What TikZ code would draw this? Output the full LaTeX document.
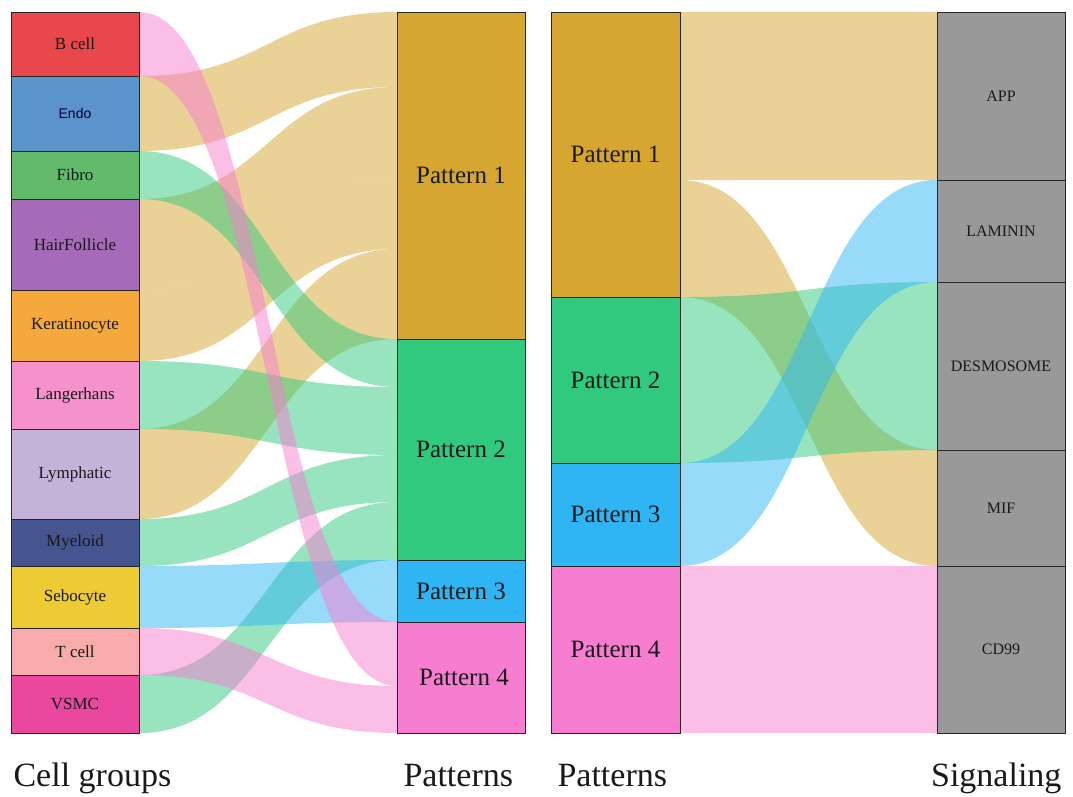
\documentclass[tikz,border=0pt]{standalone}
\usepackage{fontspec}
\setmainfont{Liberation Serif}
\newfontfamily\arialfont{Liberation Sans}
\usetikzlibrary{calc,positioning,backgrounds}

\definecolor{bcellc}{HTML}{E8474B}
\definecolor{endoc}{HTML}{5B93CB}
\definecolor{fibroc}{HTML}{62BA6B}
\definecolor{hairc}{HTML}{A56AB8}
\definecolor{kerac}{HTML}{F5A93C}
\definecolor{langc}{HTML}{F592CB}
\definecolor{lymphc}{HTML}{C5B2D9}
\definecolor{myelc}{HTML}{465590}
\definecolor{seboc}{HTML}{EDCB35}
\definecolor{tcellc}{HTML}{F8ABAB}
\definecolor{vsmcc}{HTML}{E9489E}
\definecolor{patA}{HTML}{D6A630}
\definecolor{patB}{HTML}{30C97E}
\definecolor{patC}{HTML}{2FB5F3}
\definecolor{patD}{HTML}{F77DD0}
\definecolor{sigc}{HTML}{999999}

% band: source node, top/bottom offset on source, target node, top/bottom offset on target, colour
\newcommand{\flow}[7]{%
  \fill[#7,fill opacity=.5]
    ($(#1.north east)+(0,#2)$) .. controls +(129,0) and +(-129,0) .. ($(#4.north west)+(0,#5)$)
    -- ($(#4.north west)+(0,#6)$) .. controls +(-129,0) and +(129,0) .. ($(#1.north east)+(0,#3)$)
    -- cycle;}

\begin{document}
\begin{tikzpicture}[x=1pt,y=-1pt]
  \tikzstyle{box}=[draw=black!85,line width=1pt,inner sep=0pt,outer sep=0pt,minimum width=128pt,text=black!90]
  \tikzstyle{cell}=[box,font=\fontsize{17}{19}\selectfont]
  \tikzstyle{pat}=[box,font=\fontsize{25}{28}\selectfont]
  \tikzstyle{sig}=[box,fill=sigc,font=\fontsize{16}{18}\selectfont]
  \tikzstyle{axis}=[text=black!90,font=\fontsize{34}{40}\selectfont]

  \useasboundingbox (0,0) rectangle (1073,796);

  % cell groups
  \node[cell,anchor=north west,fill=bcellc,minimum height=64pt] (bcell) at (11,12) {B cell};
  \node[cell,fill=endoc,minimum height=75pt,font=\arialfont\fontsize{14}{16}\selectfont,text=black!80!blue] (endo) [below=0pt of bcell] {Endo};
  \node[cell,fill=fibroc,minimum height=48pt] (fibro) [below=0pt of endo] {Fibro};
  \node[cell,fill=hairc,minimum height=91pt] (hair) [below=0pt of fibro] {HairFollicle};
  \node[cell,fill=kerac,minimum height=71pt] (kera) [below=0pt of hair] {Keratinocyte};
  \node[cell,fill=langc,minimum height=68pt] (lang) [below=0pt of kera] {Langerhans};
  \node[cell,fill=lymphc,minimum height=90pt] (lymph) [below=0pt of lang] {Lymphatic};
  \node[cell,fill=myelc,minimum height=47pt] (myel) [below=0pt of lymph] {Myeloid};
  \node[cell,fill=seboc,minimum height=62pt] (sebo) [below=0pt of myel] {Sebocyte};
  \node[cell,fill=tcellc,minimum height=47pt] (tcell) [below=0pt of sebo] {T cell};
  \node[cell,fill=vsmcc,minimum height=58pt] (vsmc) [below=0pt of tcell] {VSMC};

  % patterns (left)
  \node[pat,anchor=north west,fill=patA,minimum height=327pt] (pA) at (397,12) {Pattern 1};
  \node[pat,fill=patB,minimum height=221pt] (pB) [below=0pt of pA] {Pattern 2};
  \node[pat,fill=patC,minimum height=62pt] (pC) [below=0pt of pB] {Pattern 3};
  \node[pat,fill=patD,minimum height=111pt] (pD) [below=0pt of pC] {\hspace*{6pt}Pattern 4};

  % patterns (right)
  \node[pat,anchor=north west,fill=patA,minimum width=129pt,minimum height=285pt] (qA) at (551,12) {Pattern 1};
  \node[pat,fill=patB,minimum width=129pt,minimum height=166pt] (qB) [below=0pt of qA] {Pattern 2};
  \node[pat,fill=patC,minimum width=129pt,minimum height=103pt] (qC) [below=0pt of qB] {Pattern 3};
  \node[pat,fill=patD,minimum width=129pt,minimum height=167pt] (qD) [below=0pt of qC] {Pattern 4};

  % signaling
  \node[sig,anchor=north west,minimum height=168pt] (app) at (937,12) {APP};
  \node[sig,minimum height=102pt] (lam) [below=0pt of app] {LAMININ};
  \node[sig,minimum height=168pt] (des) [below=0pt of lam] {DESMOSOME};
  \node[sig,minimum height=116pt] (mif) [below=0pt of des] {MIF};
  \node[sig,minimum height=167pt] (cd) [below=0pt of mif] {CD99};

  \begin{scope}[on background layer]
    \flow{endo}{0}{75}{pA}{0}{75}{patA}
    \flow{hair}{0}{91}{pA}{75}{166}{patA}
    \flow{kera}{0}{71}{pA}{166}{237}{patA}
    \flow{lymph}{0}{90}{pA}{237}{327}{patA}
    \flow{fibro}{0}{48}{pB}{0}{48}{patB}
    \flow{lang}{0}{68}{pB}{48}{116}{patB}
    \flow{myel}{0}{47}{pB}{116}{163}{patB}
    \flow{vsmc}{0}{58}{pB}{163}{221}{patB}
    \flow{sebo}{0}{62}{pC}{0}{62}{patC}
    \flow{bcell}{0}{64}{pD}{0}{64}{patD}
    \flow{tcell}{0}{47}{pD}{64}{111}{patD}
    \flow{qA}{0}{168}{app}{0}{168}{patA}
    \flow{qA}{168}{285}{mif}{0}{116}{patA}
    \flow{qB}{0}{166}{des}{0}{168}{patB}
    \flow{qC}{0}{103}{lam}{0}{102}{patC}
    \flow{qD}{0}{167}{cd}{0}{167}{patD}
  \end{scope}

  \node[axis,anchor=base west] (lcell) at (10,786) {Cell groups};
  \node[axis,anchor=base west] (lpatl) at (400,786) {Patterns};
  \node[axis,anchor=base west] (lpatr) at (554,786) {Patterns};
  \node[axis,anchor=base east] (lsig) at (1065,786) {Signaling};
\end{tikzpicture}
\end{document}
